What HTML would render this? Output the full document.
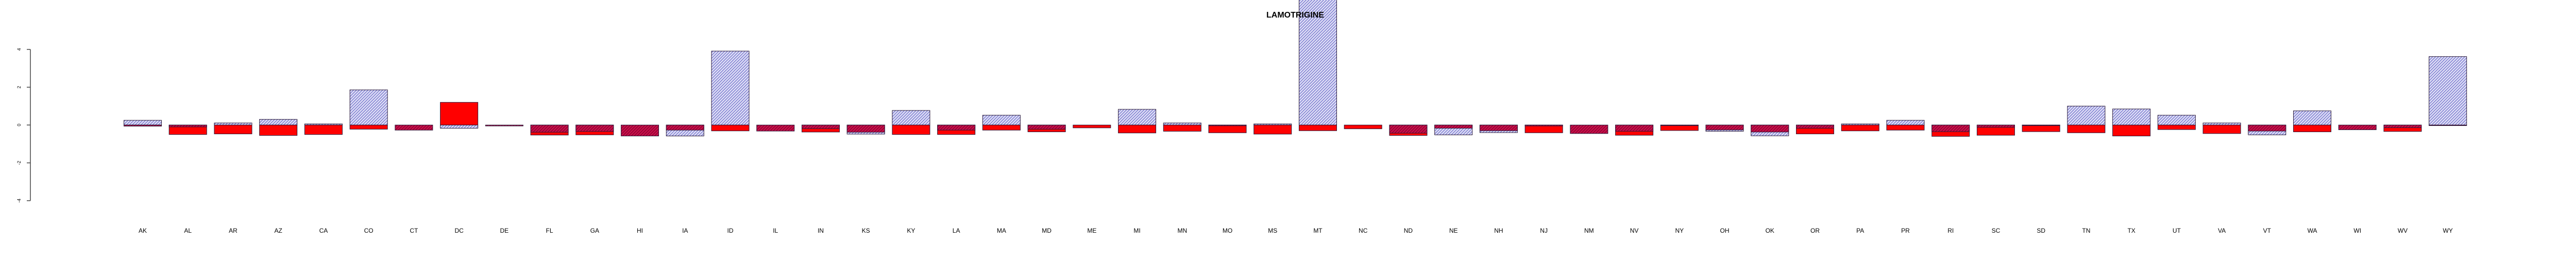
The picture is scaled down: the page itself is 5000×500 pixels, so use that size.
<!DOCTYPE html>
<html><head><meta charset="utf-8"><style>
html,body{margin:0;padding:0;background:#fff;}
svg{display:block;font-family:"Liberation Sans",sans-serif;}
</style></head><body>
<svg id="chart" width="5000" height="500" viewBox="0 0 5000 500" xmlns="http://www.w3.org/2000/svg">
<defs>
<pattern id="hatchBlue" patternUnits="userSpaceOnUse" width="4" height="4" patternTransform="rotate(45)">
<rect width="4" height="4" fill="#e0e0f6"/><rect width="1.3" height="4" fill="#7070cc"/>
</pattern>
<pattern id="hatchCrim" patternUnits="userSpaceOnUse" width="4" height="4" patternTransform="rotate(45)">
<rect width="4" height="4" fill="#c8104a"/><rect width="1.4" height="4" fill="#8a0030"/>
</pattern>
</defs>
<g id="yaxis"></g>
<g id="bars"></g>
<g id="xlabels"></g>
<text x="2514" y="34" text-anchor="middle" font-size="16" font-weight="bold">LAMOTRIGINE</text>
</svg>
<script>
const categories=["AK","AL","AR","AZ","CA","CO","CT","DC","DE","FL","GA","HI","IA","ID","IL","IN","KS","KY","LA","MA","MD","ME","MI","MN","MO","MS","MT","NC","ND","NE","NH","NJ","NM","NV","NY","OH","OK","OR","PA","PR","RI","SC","SD","TN","TX","UT","VA","VT","WA","WI","WV","WY"];
const blueValues=[0.25,0,0.11,0.3,0.06,1.86,0,-0.17,0,0,0,0,-0.58,3.91,0,0,-0.48,0.77,0,0.52,0,0,0.83,0.11,0,0.06,7.2,0,0,-0.52,-0.4,0,0,0,0,-0.33,-0.57,0,0.06,0.25,0,0,0,1.0,0.85,0.52,0.11,-0.52,0.75,0,0,3.62];
const redValues=[-0.05,-0.5,-0.47,-0.55,-0.5,-0.22,0,1.2,0,-0.53,-0.52,0,0,-0.31,0,-0.37,0,-0.5,-0.5,-0.27,-0.36,-0.15,-0.42,-0.33,-0.41,-0.48,-0.3,-0.2,-0.55,0,0,-0.41,0,-0.54,-0.29,0,0,-0.47,-0.31,-0.27,-0.6,-0.54,-0.35,-0.41,-0.58,-0.24,-0.45,0,-0.36,0,-0.34,0];
const crimsonValues=[-0.06,-0.1,0,0,0,0,-0.27,0,-0.05,-0.38,-0.34,-0.58,-0.27,0,-0.32,-0.19,-0.38,0,-0.27,0,-0.22,0,0,0,-0.04,0,0,0,-0.43,-0.17,-0.3,-0.05,-0.45,-0.33,-0.03,-0.26,-0.37,-0.17,0,0,-0.35,-0.12,-0.02,0,0,0,0,-0.32,0,-0.25,-0.14,-0.03];
const yTicks=[-4,-2,0,2,4];

const NS="http://www.w3.org/2000/svg";
const y0=242.3, unit=36.65;
function yScale(v){return y0 - v*unit;}
function xScale(i){return 277 + i*87.73;}
const barW=73;
function mk(tag,attrs,parent){const e=document.createElementNS(NS,tag);for(const k in attrs)e.setAttribute(k,attrs[k]);parent.appendChild(e);return e;}

const yaxis=document.getElementById('yaxis');
const ax=mk('line',{x1:59,x2:59,y1:yScale(4),y2:yScale(-4),stroke:'#444','stroke-width':1.5},yaxis);


yTicks.forEach(t=>{
  const tk=mk('line',{x1:52,x2:59,y1:yScale(t),y2:yScale(t),stroke:'#444','stroke-width':1.5},yaxis);
  
  
  const yy=yScale(t);
  const lb=mk('text',{x:0,y:0,'font-size':9,'text-anchor':'middle',transform:`translate(40,${yy}) rotate(-90)`},yaxis);
  
  
  lb.textContent=String(t);
});

const bars=document.getElementById('bars');
function drawBar(i,v,fill,name){
  if(!v)return;
  const top=Math.min(yScale(v),y0), h=Math.abs(yScale(v)-y0);
  const r=mk('rect',{x:xScale(i)-barW/2,y:top,width:barW,height:Math.max(h,1.2),fill:fill,stroke:'#2a1a3a','stroke-width':1},bars);
  
  
}
categories.forEach((c,i)=>{
  drawBar(i,blueValues[i],'url(#hatchBlue)','blue-bar');
  drawBar(i,redValues[i],'#ff0000','red-bar');
  drawBar(i,crimsonValues[i],'url(#hatchCrim)','crimson-bar');
});

const xl=document.getElementById('xlabels');
categories.forEach((c,i)=>{
  const t=mk('text',{x:xScale(i),y:451,'font-size':12,'text-anchor':'middle'},xl);
  
  
  t.textContent=c;
});
</script>
</body></html>
